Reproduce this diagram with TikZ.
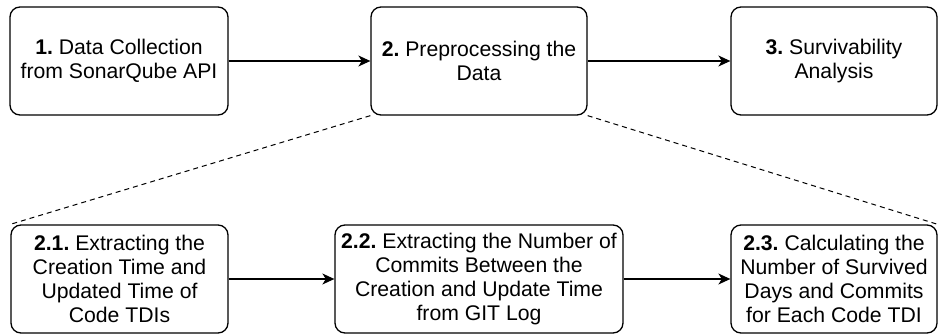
\documentclass[tikz,border=0pt]{standalone}
\usepackage{fontspec}
\setmainfont{Liberation Sans}
\usetikzlibrary{arrows.meta}
\frenchspacing
\tikzset{
  box/.style={draw, line width=1.3pt, rounded corners=10pt, inner sep=0pt,
    align=center, font=\fontsize{21.2pt}{24pt}\selectfont\frenchspacing},
  flow/.style={line width=1.3pt, -{Stealth[length=12pt,width=11pt,inset=3.5pt]}},
  zoomline/.style={line width=1pt, dash pattern=on 5pt off 4pt}
}
\begin{document}
\begin{tikzpicture}[x=1pt,y=-1pt]
\useasboundingbox (0,0) rectangle (939,334);
% top row
\node[box, minimum width=218pt, minimum height=108pt] (b1) at (119,61)
  {\textbf{1.} Data Collection\\from SonarQube API};
\node[box, minimum width=216pt, minimum height=108pt] (b2) at (479,61)
  {\textbf{2.} Preprocessing the\\Data};
\node[box, minimum width=206pt, minimum height=108pt] (b3) at (834,61)
  {\textbf{3.} Survivability\\Analysis};
% bottom row
\node[box, minimum width=217pt, minimum height=108pt] (s1) at (119.5,279)
  {\textbf{2.1.} Extracting the\\Creation Time and\\Updated Time of\\Code TDIs};
\node[box, minimum width=288pt, minimum height=108pt] (s2) at (479,279)
  {\textbf{2.2.} Extracting the Number of\\Commits Between the\\Creation and Update Time\\from GIT Log};
\node[box, minimum width=206pt, minimum height=108pt] (s3) at (834,279)
  {\textbf{2.3.} Calculating the\\Number of Survived\\Days and Commits\\for Each Code TDI};
% connectors
\draw[flow] (b1) -- (b2);
\draw[flow] (b2) -- (b3);
\draw[flow] (s1) -- (s2);
\draw[flow] (s2) -- (s3);
\draw[zoomline] (b2.south west) -- (s1.north west);
\draw[zoomline] (b2.south east) -- (s3.north east);
\end{tikzpicture}
\end{document}
